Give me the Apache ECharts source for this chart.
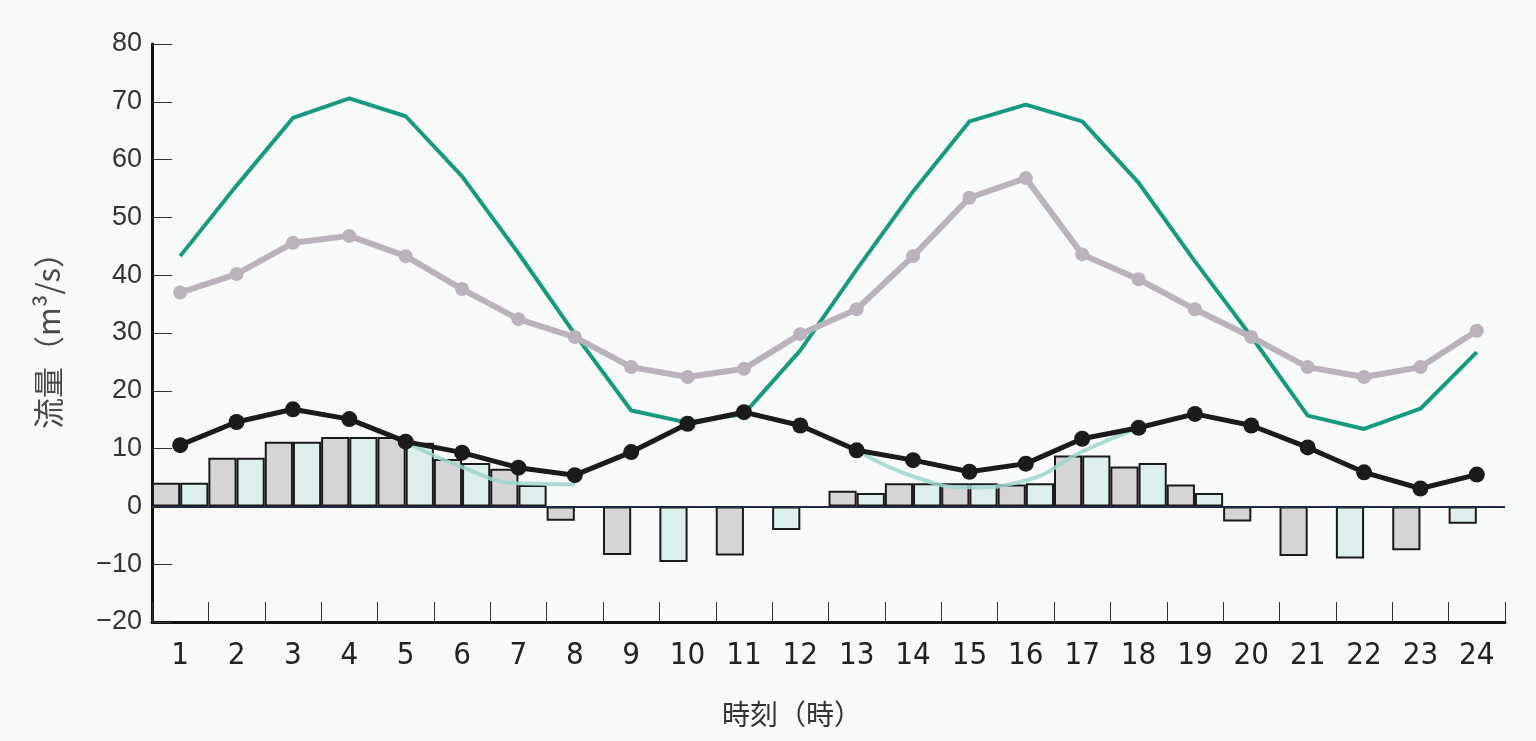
<!DOCTYPE html>
<html>
<head>
<meta charset="utf-8">
<script src="https://cdn.jsdelivr.net/npm/echarts@6/dist/echarts.min.js"></script>
<style>
html,body{margin:0;padding:0;background:#f8faf9;}
#chart{width:1536px;height:741px;}
</style>
</head>
<body>
<div id="chart"></div>
<script>
// ---- data ----
var hours = ['1','2','3','4','5','6','7','8','9','10','11','12','13','14','15','16','17','18','19','20','21','22','23','24'];
var yTicks = { min: -20, max: 80, step: 10 };

var greenFlow = [43.3, 55.5, 67.2, 70.6, 67.5, 57.1, 43.8, 29.8, 16.6, 14.5, 16.0, 27.0, 41.0, 54.5, 66.6, 69.5, 66.6, 56.0, 42.4, 29.4, 15.7, 13.4, 16.9, 26.7];
var grayFlow = [37.0, 40.2, 45.6, 46.8, 43.3, 37.6, 32.4, 29.3, 24.1, 22.4, 23.8, 29.8, 34.1, 43.3, 53.4, 56.8, 43.6, 39.3, 34.1, 29.3, 24.1, 22.4, 24.1, 30.4];
var blackFlow = [10.6, 14.6, 16.8, 15.1, 11.2, 9.3, 6.7, 5.4, 9.4, 14.3, 16.3, 14.0, 9.7, 8.0, 6.0, 7.4, 11.7, 13.6, 16.0, 14.0, 10.2, 5.9, 3.1, 5.5];
var paleFlow = [null, null, null, null, 11.2, 6.8, 4.0, 3.8, null, null, null, null, 9.7, 5.2, 3.3, 4.5, 9.5, 13.6, null, null, null, null, null, null];

var barsLeftGray = [4.1, 8.4, 11.2, 12.0, 12.0, 8.2, 6.5, -2.5, -8.4, null, -8.5, null, 2.7, 4.0, 4.0, 3.8, 8.8, 6.9, 3.8, -2.6, -8.6, null, -7.6, null];
var barsLeftCyan = [null, null, null, null, null, null, null, null, null, -9.6, null, -4.1, null, null, null, null, null, null, null, null, null, -9.0, null, -3.0];
var barsRightCyan = [4.1, 8.4, 11.2, 12.0, 11.0, 7.5, 3.7, null, null, null, null, null, 2.3, 4.0, 4.0, 4.0, 8.8, 7.5, 2.3, null, null, null, null, null];

var yName = '流量（m³/s）';
var xName = '時刻（時）';

// ---- chart ----
var chart = echarts.init(document.getElementById('chart'), null, {renderer: 'canvas'});
var latin = "'Liberation Sans', Arial, sans-serif";
var narrow = "'Liberation Sans Narrow', 'DejaVu Sans Condensed', 'Liberation Sans', sans-serif";
var cjk = "'Noto Sans CJK JP', 'Noto Sans', sans-serif";

var barBorder = {borderColor: '#1a1a1a', borderWidth: 2};

var option = {
  backgroundColor: '#f8faf9',
  animation: false,
  grid: {left: 152, right: 31, top: 44, bottom: 119, containLabel: false},
  xAxis: {
    type: 'category',
    data: hours,
    boundaryGap: true,
    axisLine: {onZero: false, lineStyle: {color: '#111', width: 3}},
    axisTick: {show: true, inside: true, length: 20, interval: 0, lineStyle: {color: '#333', width: 1}},
    axisLabel: {color: '#222', fontSize: 31, fontFamily: narrow, margin: 18, interval: 0},
    splitLine: {show: false}
  },
  yAxis: {
    type: 'value',
    min: yTicks.min, max: yTicks.max, interval: yTicks.step,
    axisLine: {show: true, lineStyle: {color: '#111', width: 3}},
    axisTick: {show: true, inside: true, length: 20, lineStyle: {color: '#333', width: 1}},
    axisLabel: {color: '#333', fontSize: 27, fontFamily: latin, margin: 10,
      formatter: function (v) { return v < 0 ? '\u2212' + Math.abs(v) : String(v); }},
    splitLine: {show: false},
    name: yName,
    nameLocation: 'middle',
    nameGap: 88,
    nameTextStyle: {color: '#4a4a4a', fontSize: 31, fontFamily: cjk}
  },
  graphic: [{
    type: 'text',
    left: 722, top: 700,
    style: {text: xName, fill: '#333', font: '28px ' + cjk}
  }],
  series: [
    {
      name: 'gray-left', type: 'bar', stack: 'L', data: barsLeftGray,
      barWidth: '50%', barGap: '0%', barCategoryGap: '0%',
      itemStyle: Object.assign({color: '#d7d4d6'}, barBorder),
      markLine: {
        silent: true, symbol: 'none', label: {show: false},
        lineStyle: {color: '#1d2a48', width: 2, type: 'solid'},
        data: [{yAxis: 0}]
      },
      z: 2
    },
    {
      name: 'cyan-left', type: 'bar', stack: 'L', data: barsLeftCyan,
      barWidth: '50%', barGap: '0%',
      itemStyle: Object.assign({color: '#dcefec'}, barBorder),
      z: 2
    },
    {
      name: 'cyan-right', type: 'bar', stack: 'R', data: barsRightCyan,
      barWidth: '50%', barGap: '0%',
      itemStyle: Object.assign({color: '#dcefec'}, barBorder),
      z: 2
    },
    {
      name: 'pale', type: 'line', data: paleFlow, smooth: true, connectNulls: false,
      showSymbol: false, symbol: 'none',
      lineStyle: {color: '#9fd6cd', width: 4, opacity: 0.85},
      z: 3
    },
    {
      name: 'green', type: 'line', data: greenFlow,
      showSymbol: false, symbol: 'none',
      lineStyle: {color: '#179a7f', width: 4},
      z: 4
    },
    {
      name: 'gray', type: 'line', data: grayFlow,
      symbol: 'circle', symbolSize: 14, showSymbol: true,
      lineStyle: {color: '#bbb3bb', width: 6},
      itemStyle: {color: '#bbb3bb'},
      z: 5
    },
    {
      name: 'black', type: 'line', data: blackFlow,
      symbol: 'circle', symbolSize: 16, showSymbol: true,
      lineStyle: {color: '#1b1b1b', width: 5},
      itemStyle: {color: '#1b1b1b'},
      z: 6
    }
  ]
};
chart.setOption(option);
</script>
</body>
</html>
